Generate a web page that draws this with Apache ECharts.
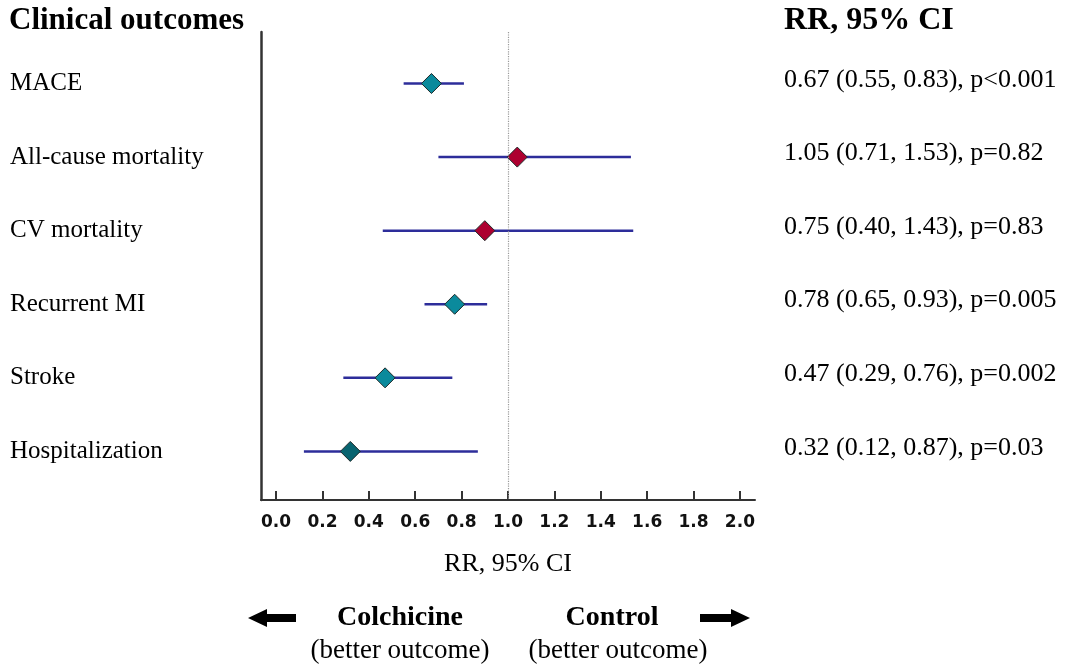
<!DOCTYPE html>
<html>
<head>
<meta charset="utf-8">
<script src="https://cdn.jsdelivr.net/npm/echarts@6/dist/echarts.min.js"></script>
<style>
  html, body { margin: 0; padding: 0; background: #fff; }
  #forest { width: 1069px; height: 664px; }
</style>
</head>
<body>
<div id="forest"></div>
<script>
// outcomes, top to bottom
const outcomes = ['MACE', 'All-cause mortality', 'CV mortality', 'Recurrent MI', 'Stroke', 'Hospitalization'];
// positions of the diamonds and whiskers as drawn in the figure
const rrPlotted = [0.67, 1.04, 0.90, 0.77, 0.47, 0.32];
const ciLow = [0.55, 0.70, 0.46, 0.64, 0.29, 0.12];
const ciHigh = [0.81, 1.53, 1.54, 0.91, 0.76, 0.87];
// text column on the right
const rrText = [
    '0.67 (0.55, 0.83), p<0.001',
    '1.05 (0.71, 1.53), p=0.82',
    '0.75 (0.40, 1.43), p=0.83',
    '0.78 (0.65, 0.93), p=0.005',
    '0.47 (0.29, 0.76), p=0.002',
    '0.32 (0.12, 0.87), p=0.03'
];
const xTicks = [0, 0.2, 0.4, 0.6, 0.8, 1.0, 1.2, 1.4, 1.6, 1.8, 2.0];

const teal = '#0b8a9c', darkTeal = '#086470', crimson = '#ad0030';
const diamondColor = (v, i) => i === outcomes.length - 1 ? darkTeal : (v >= 0.85 ? crimson : teal);
const serif = '"Liberation Serif", "Times New Roman", serif';
const rowIdx = outcomes.map((_, i) => i);

const chart = echarts.init(document.getElementById('forest'));

const option = {
    backgroundColor: '#fff',
    animation: false,
    title: [
        { text: 'Clinical outcomes', left: 9, top: 5, padding: 0,
          textStyle: { fontFamily: serif, fontWeight: 'bold', fontSize: 31, color: '#000' } },
        { text: 'RR, 95% CI', left: 784, top: 5, padding: 0,
          textStyle: { fontFamily: serif, fontWeight: 'bold', fontSize: 32, color: '#000' } }
    ],
    grid: { left: 261, right: 314, top: 32, bottom: 164 },
    xAxis: {
        type: 'value',
        min: -0.065,
        max: 2.065,
        name: 'RR, 95% CI',
        nameLocation: 'middle',
        nameGap: 51,
        nameTextStyle: { fontFamily: serif, fontSize: 26, color: '#000' },
        axisLine: { onZero: false, lineStyle: { color: '#333', width: 2 } },
        axisTick: { show: true, inside: true, length: 9, customValues: xTicks,
                    lineStyle: { color: '#333', width: 2 } },
        axisLabel: { customValues: xTicks, margin: 14, fontFamily: '"DejaVu Sans", sans-serif',
                     fontWeight: 'bold', fontSize: 17, color: '#111',
                     formatter: v => v.toFixed(1) },
        splitLine: { show: false }
    },
    yAxis: [
        {
            type: 'value',
            inverse: true,
            min: -0.7,
            max: 5.66,
            axisLine: { show: true, onZero: false, lineStyle: { color: '#333', width: 2.5 } },
            axisTick: { show: false },
            splitLine: { show: false },
            axisLabel: {
                customValues: rowIdx,
                margin: 251,
                align: 'left',
                fontFamily: serif,
                fontSize: 25,
                color: '#000',
                formatter: v => outcomes[Math.round(v)]
            }
        },
        {
            type: 'value',
            inverse: true,
            position: 'right',
            min: -0.65,
            max: 5.71,
            axisLine: { show: false },
            axisTick: { show: false },
            splitLine: { show: false },
            axisLabel: {
                customValues: rowIdx,
                margin: 29,
                align: 'left',
                fontFamily: serif,
                fontSize: 26,
                color: '#000',
                formatter: v => rrText[Math.round(v)]
            }
        }
    ],
    series: [
        {
            type: 'custom',
            name: 'CI',
            data: outcomes.map((_, i) => [ciLow[i], ciHigh[i], i]),
            encode: { x: [0, 1], y: 2 },
            renderItem: function (params, api) {
                const a = api.coord([api.value(0), api.value(2)]);
                const b = api.coord([api.value(1), api.value(2)]);
                return {
                    type: 'line',
                    shape: { x1: a[0], y1: a[1], x2: b[0], y2: b[1] },
                    style: { stroke: '#2d2d9a', lineWidth: 2.5 }
                };
            },
            z: 2
        },
        {
            type: 'scatter',
            name: 'RR',
            symbol: 'diamond',
            symbolSize: 20,
            data: rrPlotted.map((v, i) => ({
                value: [v, i],
                itemStyle: { color: diamondColor(v, i), opacity: 1, borderColor: '#1e2a2a', borderWidth: 1 }
            })),
            markLine: {
                silent: true,
                symbol: 'none',
                label: { show: false },
                lineStyle: { type: 'dotted', color: '#9a9a9a', width: 1.2 },
                data: [{ xAxis: 1 }]
            },
            z: 3
        }
    ],
    graphic: [
        { type: 'polygon', shape: { points: [[248, 618], [267, 609], [267, 614], [296, 614], [296, 622], [267, 622], [267, 627]] },
          style: { fill: '#000' } },
        { type: 'polygon', shape: { points: [[750, 618], [731, 609], [731, 614], [700, 614], [700, 622], [731, 622], [731, 627]] },
          style: { fill: '#000' } },
        { type: 'text', x: 400, y: 618, style: { text: 'Colchicine', align: 'center', verticalAlign: 'middle',
          font: 'bold 28px ' + serif, fill: '#000' } },
        { type: 'text', x: 400, y: 651, style: { text: '(better outcome)', align: 'center', verticalAlign: 'middle',
          font: '27px ' + serif, fill: '#000' } },
        { type: 'text', x: 612, y: 618, style: { text: 'Control', align: 'center', verticalAlign: 'middle',
          font: 'bold 28px ' + serif, fill: '#000' } },
        { type: 'text', x: 618, y: 651, style: { text: '(better outcome)', align: 'center', verticalAlign: 'middle',
          font: '27px ' + serif, fill: '#000' } }
    ]
};

chart.setOption(option);
window.addEventListener('resize', function () {
    chart.resize();
});
</script>
</body>
</html>
